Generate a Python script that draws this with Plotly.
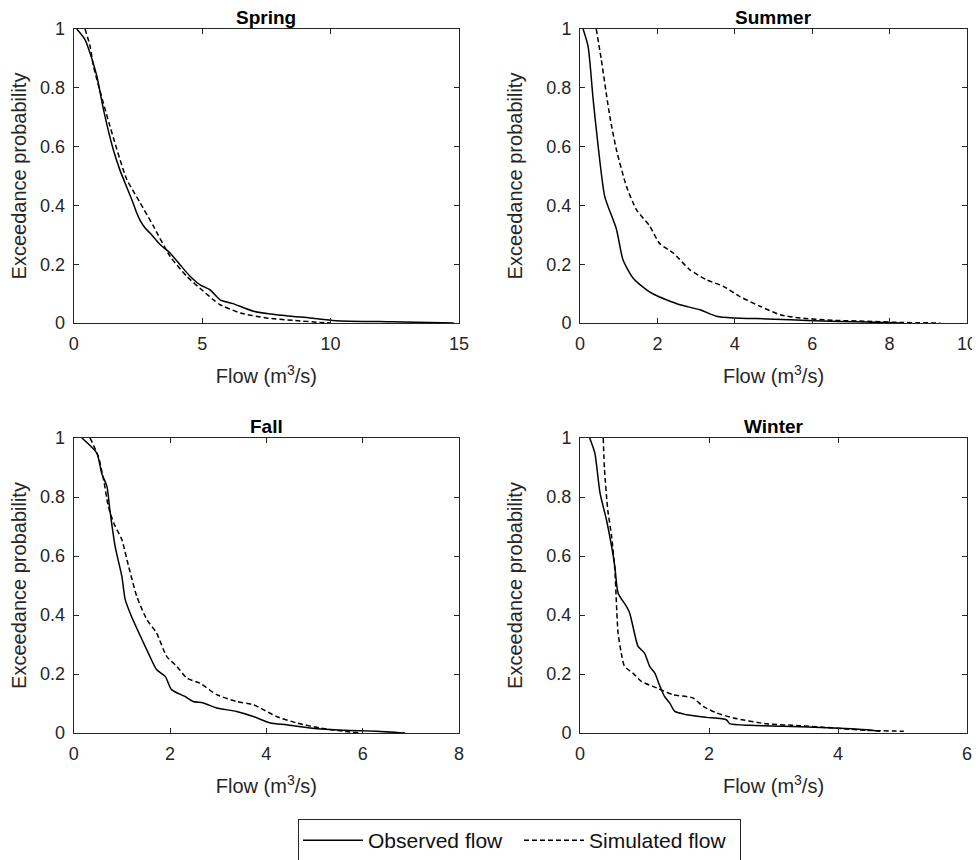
import plotly.graph_objects as go

# ---- data ----
spring_obs_x = [0.12, 0.44, 0.70, 0.9, 1.16, 1.54, 1.8, 2.26, 2.45, 2.58, 2.78, 2.97, 3.36, 3.75, 4.14, 4.53, 4.92, 5.31, 5.7, 6.2, 7.0, 7.9, 9.2, 10.2, 12.4, 14.8]
spring_obs_y = [1.0, 0.964, 0.901, 0.84, 0.726, 0.59, 0.52, 0.42, 0.375, 0.35, 0.323, 0.306, 0.267, 0.238, 0.198, 0.159, 0.13, 0.113, 0.079, 0.066, 0.04, 0.028, 0.017, 0.008, 0.004, 0.0]
spring_sim_x = [0.44, 0.64, 0.77, 1.41, 2.06, 2.58, 3.1, 3.75, 4.4, 5.05, 5.44, 5.7, 6.5, 7.5, 8.55, 9.6, 10.0]
spring_sim_y = [1.0, 0.941, 0.873, 0.67, 0.49, 0.41, 0.33, 0.227, 0.159, 0.108, 0.079, 0.062, 0.034, 0.017, 0.009, 0.002, 0.0]

summer_obs_x = [0.08, 0.21, 0.34, 0.47, 0.64, 0.94, 1.11, 1.37, 1.72, 1.93, 2.23, 2.58, 3.1, 3.53, 3.96, 4.82, 6.03, 7.41, 8.27]
summer_obs_y = [1.0, 0.94, 0.76, 0.6, 0.43, 0.32, 0.215, 0.153, 0.113, 0.096, 0.079, 0.062, 0.045, 0.023, 0.017, 0.014, 0.008, 0.003, 0.0]
summer_sim_x = [0.42, 0.55, 0.77, 0.94, 1.2, 1.46, 1.8, 2.06, 2.41, 2.84, 3.27, 3.7, 4.13, 4.65, 5.17, 5.69, 6.55, 7.41, 8.27, 9.31]
summer_sim_y = [1.0, 0.896, 0.703, 0.59, 0.465, 0.385, 0.33, 0.27, 0.238, 0.181, 0.147, 0.125, 0.09, 0.057, 0.028, 0.017, 0.009, 0.006, 0.002, 0.0]

fall_obs_x = [0.17, 0.48, 0.58, 0.69, 0.75, 0.86, 1.0, 1.07, 1.2, 1.42, 1.55, 1.72, 1.9, 2.03, 2.31, 2.48, 2.69, 2.97, 3.38, 3.73, 4.08, 4.42, 4.91, 5.6, 6.29, 6.88]
fall_obs_y = [1.0, 0.949, 0.881, 0.836, 0.757, 0.633, 0.531, 0.452, 0.395, 0.316, 0.271, 0.215, 0.192, 0.147, 0.124, 0.107, 0.102, 0.085, 0.073, 0.056, 0.034, 0.028, 0.017, 0.009, 0.006, 0.0]
fall_sim_x = [0.34, 0.51, 0.62, 0.72, 0.83, 1.0, 1.14, 1.31, 1.52, 1.72, 1.93, 2.14, 2.35, 2.62, 2.97, 3.38, 3.73, 3.94, 4.21, 4.63, 5.11, 5.6, 5.94]
fall_sim_y = [1.0, 0.938, 0.859, 0.768, 0.712, 0.655, 0.565, 0.463, 0.384, 0.339, 0.26, 0.226, 0.186, 0.169, 0.13, 0.107, 0.096, 0.079, 0.056, 0.034, 0.017, 0.006, 0.0]

winter_obs_x = [0.15, 0.23, 0.31, 0.41, 0.49, 0.54, 0.59, 0.72, 0.77, 0.82, 0.9, 1.0, 1.08, 1.16, 1.24, 1.31, 1.39, 1.47, 1.65, 1.96, 2.27, 2.32, 2.63, 3.15, 3.93, 4.45, 4.65]
winter_obs_y = [1.0, 0.949, 0.814, 0.723, 0.633, 0.565, 0.475, 0.429, 0.407, 0.362, 0.294, 0.271, 0.226, 0.203, 0.158, 0.124, 0.102, 0.073, 0.062, 0.053, 0.045, 0.032, 0.026, 0.023, 0.017, 0.011, 0.006]
winter_sim_x = [0.36, 0.38, 0.43, 0.49, 0.54, 0.56, 0.59, 0.64, 0.69, 0.82, 0.95, 1.19, 1.44, 1.75, 1.91, 2.12, 2.38, 2.89, 3.41, 3.93, 4.45, 5.02]
winter_sim_y = [1.0, 0.893, 0.757, 0.667, 0.554, 0.463, 0.339, 0.271, 0.226, 0.203, 0.175, 0.153, 0.13, 0.119, 0.09, 0.068, 0.051, 0.031, 0.025, 0.017, 0.009, 0.006]

titles = ["Spring", "Summer", "Fall", "Winter"]
x_max = [15, 10, 8, 6]
x_dtick = [5, 2, 2, 2]
y_ticks = [0, 0.2, 0.4, 0.6, 0.8, 1]
y_ticklabels = ["0", "0.2", "0.4", "0.6", "0.8", "1"]
series_names = ["Observed flow", "Simulated flow"]

panels = [
    (spring_obs_x, spring_obs_y, spring_sim_x, spring_sim_y),
    (summer_obs_x, summer_obs_y, summer_sim_x, summer_sim_y),
    (fall_obs_x, fall_obs_y, fall_sim_x, fall_sim_y),
    (winter_obs_x, winter_obs_y, winter_sim_x, winter_sim_y),
]

# ---- layout geometry ----
# the page body has an 8px margin, so the figure is 8px smaller and offset
OFF = 8
W, H = 980 - OFF, 860 - OFF


def fx(p):
    return (p - OFF) / W


def fy(p):
    return 1 - (p - OFF) / H


x_domains = [[fx(73.7), fx(459)], [fx(580), fx(967)]]
y_domains = [[fy(323), fy(29)], [fy(733), fy(438)]]

AX_COLOR = "#262626"
FONT = "Liberation Sans, Arial, sans-serif"

fig = go.Figure()
layout = dict(
    template="none",
    width=W, height=H,
    margin=dict(l=0, r=0, t=0, b=0, autoexpand=False),
    paper_bgcolor="white", plot_bgcolor="white",
    font=dict(family=FONT, color=AX_COLOR, size=18),
    showlegend=True,
    legend=dict(
        orientation="h", x=fx(298), xanchor="left", y=fy(819), yanchor="top",
        bordercolor=AX_COLOR, borderwidth=1, bgcolor="white",
        font=dict(size=21, color="#111111"),
        itemwidth=60, entrywidth=146,
        tracegroupgap=0,
    ),
)

annotations = []
for i, (ox, oy, sx, sy) in enumerate(panels):
    r, c = divmod(i, 2)
    idx = "" if i == 0 else str(i + 1)
    xa, ya = "x" + idx, "y" + idx
    fig.add_trace(go.Scatter(
        x=ox, y=oy, mode="lines", xaxis=xa, yaxis=ya,
        line=dict(color="black", width=1.5, shape="spline", smoothing=0.6),
        name=series_names[0], showlegend=(i == 0), legendgroup="obs",
    ))
    fig.add_trace(go.Scatter(
        x=sx, y=sy, mode="lines", xaxis=xa, yaxis=ya,
        line=dict(color="black", width=1.5, dash="5px,3px", shape="spline", smoothing=0.6),
        name=series_names[1], showlegend=(i == 0), legendgroup="sim",
    ))
    axis_common = dict(
        showline=True, linecolor=AX_COLOR, linewidth=1, mirror="ticks",
        ticks="inside", ticklen=5, tickcolor=AX_COLOR, showgrid=False,
        zeroline=False, tickfont=dict(size=18, color=AX_COLOR),
        automargin=False, ticklabelstandoff=4,
    )
    layout["xaxis" + idx] = dict(
        axis_common, domain=x_domains[c], range=[0, x_max[i]], dtick=x_dtick[i],
        tick0=0, anchor=ya,
        title=dict(text="Flow (m<sup>3</sup>/s)", font=dict(size=20, color=AX_COLOR), standoff=16),
    )
    layout["yaxis" + idx] = dict(
        axis_common, domain=y_domains[r], range=[0, 1], tickvals=y_ticks,
        ticktext=y_ticklabels, anchor=xa,
        title=dict(text="Exceedance probability", font=dict(size=20, color=AX_COLOR), standoff=18),
    )
    annotations.append(dict(
        text="<b>%s</b>" % titles[i], xref="paper", yref="paper",
        x=sum(x_domains[c]) / 2, y=y_domains[r][1], xanchor="center", yanchor="bottom",
        yshift=0, borderpad=0, showarrow=False,
        font=dict(size=19, color="black", family=FONT),
    ))

layout["annotations"] = annotations
fig.update_layout(**layout)
fig.write_html("out.html")
